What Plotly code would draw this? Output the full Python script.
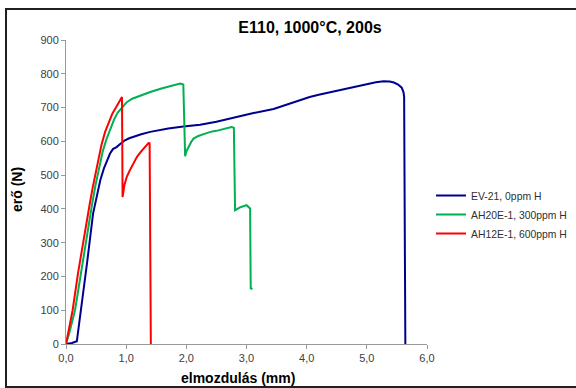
import plotly.graph_objects as go

# Force-displacement curves, E110 cladding, 1000°C / 200s
ev21_x = [0, 0.10, 0.18, 0.25, 0.35, 0.45, 0.51, 0.57, 0.63, 0.68, 0.73, 0.78, 0.84, 0.90,
          0.98, 1.05, 1.12, 1.25, 1.40, 1.70, 1.95, 2.23, 2.50, 2.78, 3.10, 3.45, 3.60,
          3.75, 3.89, 4.05, 4.20, 4.45, 4.67, 4.85, 5.00, 5.15, 5.28, 5.38, 5.45, 5.52,
          5.58, 5.61, 5.62, 5.63, 5.64]
ev21_y = [0, 3, 8, 100, 240, 386, 440, 485, 520, 544, 563, 577, 583, 592,
          603, 609, 614, 621, 628, 638, 644, 649, 658, 670, 683, 696, 705,
          714, 723, 731, 738, 748, 757, 764, 770, 775, 778, 777, 774, 768,
          759, 745, 731, 300, 0]

ah20_x = [0, 0.05, 0.15, 0.24, 0.32, 0.38, 0.43, 0.49, 0.55, 0.61, 0.67, 0.74, 0.80, 0.86,
          0.93, 1.01, 1.10, 1.20, 1.30, 1.40, 1.60, 1.80, 1.90, 1.95, 1.96, 1.98, 2.00,
          2.04, 2.08, 2.12, 2.20, 2.30, 2.40, 2.50, 2.60, 2.70, 2.75, 2.79, 2.80, 2.81,
          2.90, 3.00, 3.06, 3.065, 3.07, 3.10]
ah20_y = [0, 30, 100, 200, 300, 360, 410, 470, 525, 570, 605, 640, 665, 685,
          701, 716, 726, 733, 740, 746, 757, 765, 771, 768, 650, 556, 570,
          586, 598, 608, 616, 622, 628, 631, 635, 640, 642, 640, 520, 396,
          405, 411, 401, 300, 165, 163]

ah12_x = [0, 0.05, 0.11, 0.20, 0.28, 0.34, 0.39, 0.44, 0.49, 0.54, 0.59, 0.65, 0.71, 0.77,
          0.84, 0.90, 0.93, 0.935, 0.94, 0.97, 1.01, 1.06, 1.12, 1.18, 1.25, 1.31, 1.37,
          1.39, 1.40, 1.41]
ah12_y = [0, 45, 100, 210, 300, 360, 410, 460, 505, 550, 590, 628, 658, 682,
          703, 722, 731, 600, 435, 470, 495, 514, 536, 554, 570, 583, 595,
          594, 300, 0]

series = [
    ("EV-21, 0ppm H", ev21_x, ev21_y, "#000090"),
    ("AH20E-1, 300ppm H", ah20_x, ah20_y, "#00B050"),
    ("AH12E-1, 600ppm H", ah12_x, ah12_y, "#FF0000"),
]

x_ticks = [0, 1, 2, 3, 4, 5, 6]
y_ticks = list(range(0, 1000, 100))

FONT = "Arial, 'Liberation Sans', sans-serif"

fig = go.Figure()
for name, xs, ys, color in series:
    fig.add_trace(go.Scatter(x=xs, y=ys, mode="lines", name=name,
                             line=dict(color=color, width=2)))

# plot area: x 66..427 px, y 40..344 px
L, R, T, B = 66, 149, 40, 44
W, H = 576 - L - R, 388 - T - B

def px(x):
    return (x - L) / W

def py(y):
    return (388 - B - y) / H

fig.update_layout(
    width=576, height=388,
    margin=dict(l=L, r=R, t=T, b=B, pad=0, autoexpand=False),
    paper_bgcolor="white", plot_bgcolor="white",
    separators=",.",
    font=dict(family=FONT, size=11, color="#404040"),
    showlegend=True,
    legend=dict(x=px(431), y=py(181), xanchor="left", yanchor="top",
                font=dict(size=10.4, color="#303030"), itemwidth=30,
                tracegroupgap=0, bgcolor="rgba(0,0,0,0)"),
    title=dict(text="<b>E110, 1000°C, 200s</b>", xref="container", x=310 / 576,
               xanchor="center", yref="container", y=1 - 27 / 388, yanchor="middle",
               font=dict(size=16, color="#000000", family=FONT)),
    xaxis=dict(range=[0, 6], tickvals=x_ticks, tickformat=".1f", automargin=False,
               showgrid=False, zeroline=False, showline=True,
               linecolor="#999999", linewidth=1, ticks="outside", ticklen=4,
               tickcolor="#999999", tickfont=dict(size=11, color="#404040")),
    yaxis=dict(range=[0, 900], tickvals=y_ticks, automargin=False,
               showgrid=False, zeroline=False, showline=True,
               linecolor="#999999", linewidth=1, ticks="outside", ticklen=4,
               tickcolor="#999999", tickfont=dict(size=11, color="#404040")),
    annotations=[
        dict(text="<b>elmozdulás (mm)</b>", x=px(238), y=py(378), xref="paper", yref="paper",
             showarrow=False, xanchor="center", yanchor="middle",
             font=dict(size=14, color="#000000")),
        dict(text="<b>erő (N)</b>", x=px(17), y=py(190), xref="paper", yref="paper",
             showarrow=False, xanchor="center", yanchor="middle", textangle=-90,
             font=dict(size=14, color="#000000")),
    ],
    shapes=[
        dict(type="rect", xref="paper", yref="paper",
             x0=px(6), x1=px(590), y0=py(387), y1=py(9),
             line=dict(color="#202020", width=2), layer="below"),
    ],
)

fig.write_html("out.html")
